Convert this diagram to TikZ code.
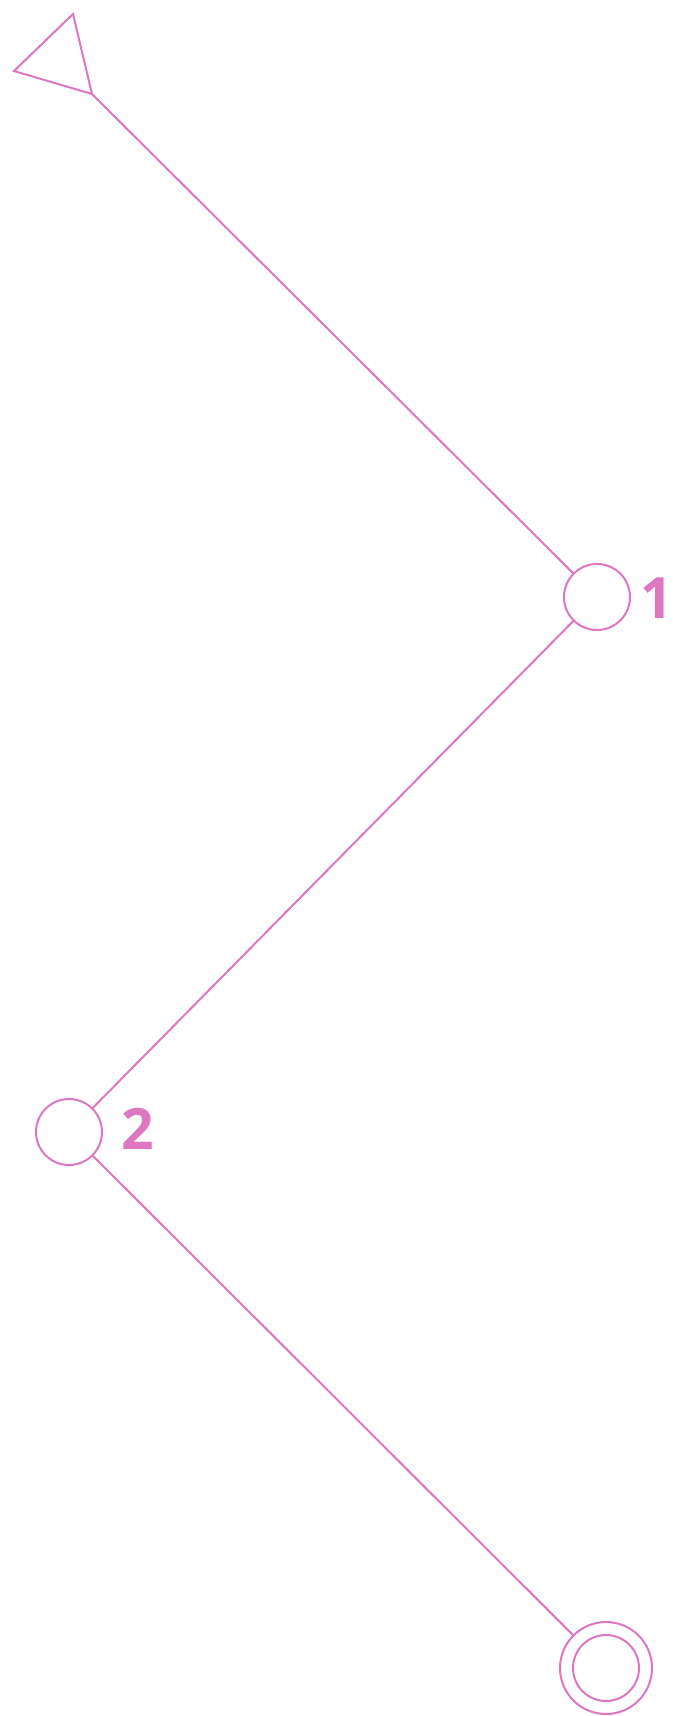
\documentclass[tikz,border=0pt]{standalone}
\usepackage{fontspec}
\setmainfont{Open Sans}
\definecolor{pk}{RGB}{222,118,194}
\begin{document}
\begin{tikzpicture}[x=1pt,y=-1pt,
  edge/.style={draw=pk,line width=2pt},
  state/.style={circle,draw=pk,line width=2pt,inner sep=0pt,outer sep=0pt,minimum size=66pt},
  final/.style={circle,draw=pk,line width=2pt,inner sep=0pt,outer sep=0pt,minimum size=92pt},
  lab/.style={text=pk,font=\fontsize{57}{60}\selectfont\bfseries,inner sep=0pt}]
\useasboundingbox (0,0) rectangle (672,1716);
\fill[white] (0,0) rectangle (672,1716);
\node[state] (n1) at (597,597) {};
\node[state] (n2) at (69,1132) {};
\node[final] (n3) at (606,1668) {};
\node[state] (n3in) at (606,1668) {};
\node[lab] (l1) at (657,598) {\makebox[20pt]{1}};
\node[lab] (l2) at (138,1129) {2};
\coordinate (s) at (92,94);
\coordinate (ta) at (73,14);
\coordinate (tb) at (14,71);
\draw[edge,line join=miter] (s) -- (ta) -- (tb) -- cycle;
\draw[edge] (s) -- (n1);
\draw[edge] (n1) -- (n2);
\draw[edge] (n2) -- (n3);
\end{tikzpicture}
\end{document}
